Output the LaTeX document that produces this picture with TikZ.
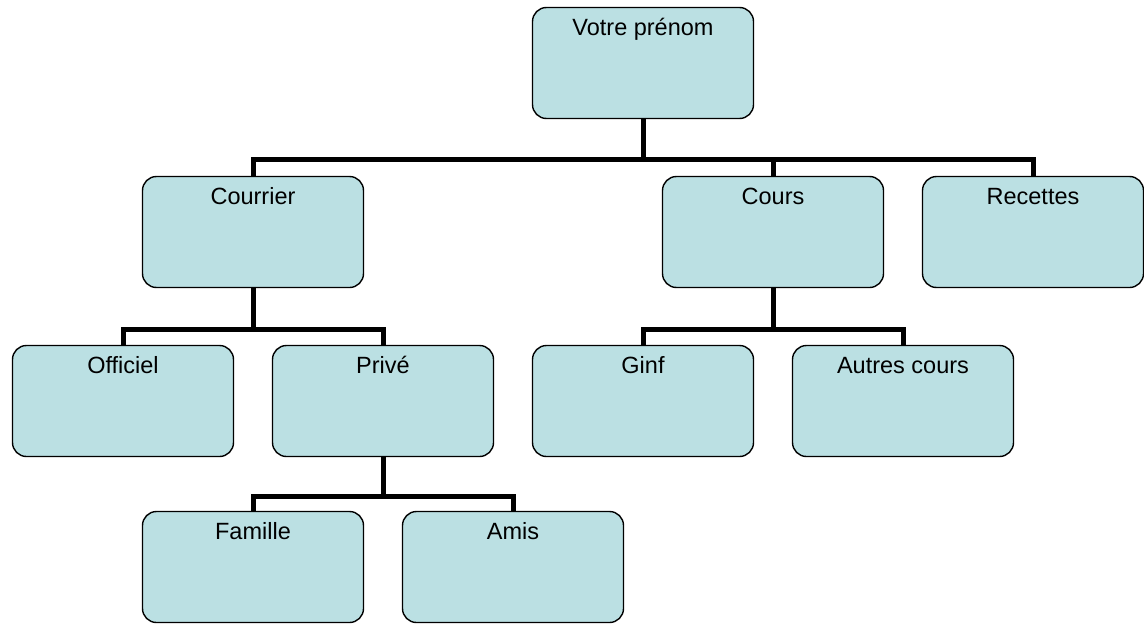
\documentclass[tikz,border=0pt]{standalone}
\usepackage{fontspec}
\setmainfont{Liberation Sans}
\usetikzlibrary{positioning}
\definecolor{boxfill}{RGB}{187,224,227}

\begin{document}
\begin{tikzpicture}[
    x=1pt, y=1pt,
    folder/.style={rectangle, draw=black, line width=1.4pt, fill=boxfill, rounded corners=14pt,
                   minimum width=221pt, minimum height=111pt, inner sep=0pt},
    ftitle/.style={font=\fontsize{23.5}{28}\selectfont, text height=17pt, text depth=5pt, inner sep=0pt},
    conn/.style={line width=5pt},
]
\useasboundingbox (0,0) rectangle (1144,-624);

% ======== ROOT ========
\node[folder, label={[ftitle, anchor=north, yshift=-11pt]north:Votre prénom}] (root) at (643,-63) {};

% ======== LEVEL 1 ========
\node[folder, label={[ftitle, anchor=north, yshift=-11pt]north:Courrier}] (courrier) at (253,-232) {};
\node[folder, label={[ftitle, anchor=north, yshift=-11pt]north:Cours}] (cours) at (773,-232) {};
\node[folder, label={[ftitle, anchor=north, yshift=-11pt]north:Recettes}] (recettes) at (1033,-232) {};

% ======== LEVEL 2 ========
\node[folder, label={[ftitle, anchor=north, yshift=-11pt]north:Officiel}] (officiel) at (123,-401) {};
\node[folder, label={[ftitle, anchor=north, yshift=-11pt]north:Privé}] (prive) at (383,-401) {};
\node[folder, label={[ftitle, anchor=north, yshift=-11pt]north:Ginf}] (ginf) at (643,-401) {};
\node[folder, label={[ftitle, anchor=north, yshift=-11pt]north:Autres cours}] (autres) at (903,-401) {};

% ======== LEVEL 3 ========
\node[folder, label={[ftitle, anchor=north, yshift=-11pt]north:Famille}] (famille) at (253,-567) {};
\node[folder, label={[ftitle, anchor=north, yshift=-11pt]north:Amis}] (amis) at (513,-567) {};

% ======== CONNECTORS ========
\foreach \c in {courrier,cours,recettes}
    \draw[conn] (root.south) |- ([yshift=16pt]\c.north) -- (\c.north);
\foreach \c in {officiel,prive}
    \draw[conn] (courrier.south) |- ([yshift=15pt]\c.north) -- (\c.north);
\foreach \c in {ginf,autres}
    \draw[conn] (cours.south) |- ([yshift=15pt]\c.north) -- (\c.north);
\foreach \c in {famille,amis}
    \draw[conn] (prive.south) |- ([yshift=14pt]\c.north) -- (\c.north);

\end{tikzpicture}
\end{document}
